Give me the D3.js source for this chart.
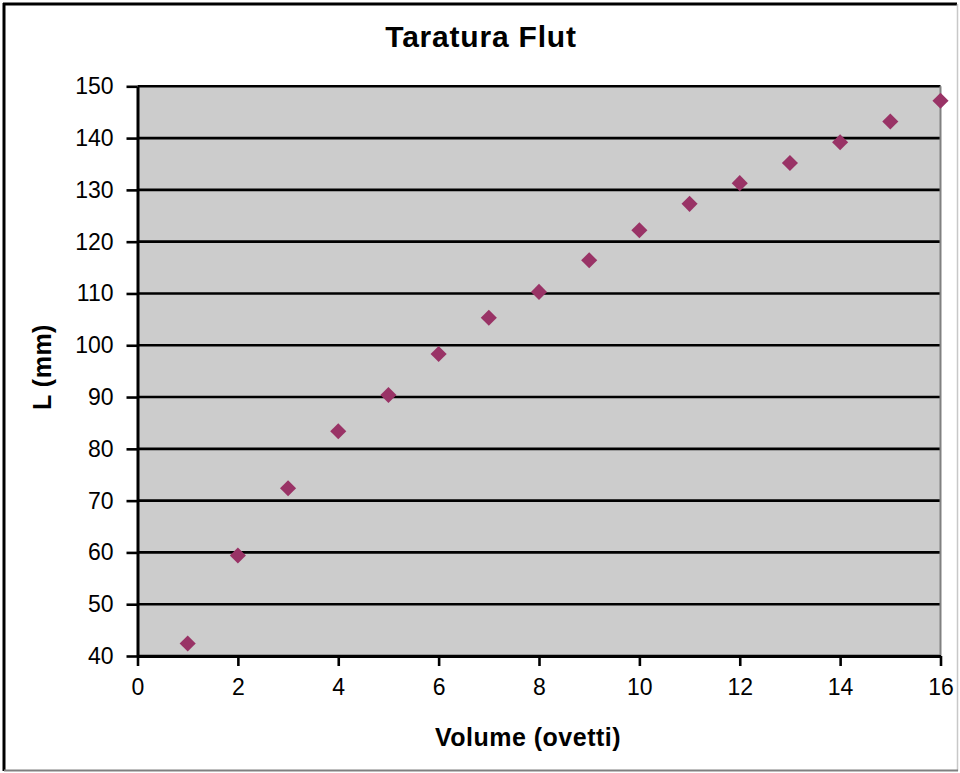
<!DOCTYPE html>
<html>
<head>
<meta charset="utf-8">
<script src="https://cdn.jsdelivr.net/npm/d3@7"></script>
<style>
html,body{margin:0;padding:0;background:#fff;}
svg{display:block;font-family:"Liberation Sans",Arial,sans-serif;}
</style>
</head>
<body>
<svg id="chart" width="960" height="773"></svg>
<script>
const chartTitle = "Taratura Flut";
const xTitle = "Volume (ovetti)";
const yTitle = "L (mm)";
const volume = [1,2,3,4,5,6,7,8,9,10,11,12,13,14,15,16];
const lengthMM = [42.4,59.4,72.4,83.4,90.4,98.3,105.3,110.3,116.4,122.2,127.3,131.3,135.2,139.2,143.2,147.2];
const xTicks = [0,2,4,6,8,10,12,14,16];
const yTicks = [40,50,60,70,80,90,100,110,120,130,140,150];

const svg = d3.select("#chart");
const L = 137.5, R = 940.5, T = 86.3, B = 656;

const x = d3.scaleLinear().domain([0,16]).range([L,R]);
const y = d3.scaleLinear().domain([40,150]).range([B,T]);

// outer border
svg.append("line").attr("x1",3).attr("x2",957).attr("y1",4).attr("y2",4).attr("stroke","#000").attr("stroke-width",3);
svg.append("line").attr("x1",4).attr("x2",4).attr("y1",3).attr("y2",771).attr("stroke","#000").attr("stroke-width",3);
svg.append("line").attr("x1",957.5).attr("x2",957.5).attr("y1",4).attr("y2",771).attr("stroke","#c8c8c8").attr("stroke-width",1.5);
svg.append("line").attr("x1",4).attr("x2",958).attr("y1",770.5).attr("y2",770.5).attr("stroke","#808080").attr("stroke-width",2);

// plot area
svg.append("rect").attr("x",L).attr("y",T).attr("width",R-L).attr("height",B-T).attr("fill","#cccccc");

// gridlines
svg.append("g").selectAll("line").data(yTicks).join("line")
  .attr("x1",L).attr("x2",R).attr("y1",d=>y(d)).attr("y2",d=>y(d))
  .attr("stroke","#000").attr("stroke-width",2.6);

// right edge
svg.append("line").attr("x1",R).attr("x2",R).attr("y1",T).attr("y2",B).attr("stroke","#808080").attr("stroke-width",2);

// y axis
const yAxis = d3.axisLeft(y).tickValues(yTicks).tickSize(11).tickPadding(13).tickSizeOuter(0);
const gy = svg.append("g").attr("transform",`translate(${L},0)`).call(yAxis);
gy.select(".domain").attr("stroke","#000").attr("stroke-width",3);
gy.selectAll(".tick line").attr("stroke","#000").attr("stroke-width",2.6);
gy.selectAll(".tick text").attr("font-size",23).attr("fill","#000").attr("font-family","Liberation Sans, Arial, sans-serif");

// x axis
const xAxis = d3.axisBottom(x).tickValues(xTicks).tickSize(10).tickPadding(13).tickSizeOuter(0);
const gx = svg.append("g").attr("transform",`translate(0,${B})`).call(xAxis);
gx.select(".domain").attr("stroke","#000").attr("stroke-width",3);
gx.selectAll(".tick line").attr("stroke","#000").attr("stroke-width",2.6);
gx.selectAll(".tick text").attr("font-size",23).attr("fill","#000").attr("font-family","Liberation Sans, Arial, sans-serif");

// points
const diamond = d3.symbol().type(d3.symbolDiamond2).size(165);
svg.append("g").selectAll("path").data(volume.map((v,i)=>[v,lengthMM[i]])).join("path")
  .attr("d",diamond)
  .attr("transform",d=>`translate(${x(d[0])},${y(d[1])})`)
  .attr("fill","#993366");

// titles
svg.append("text").attr("x",481).attr("y",47).attr("text-anchor","middle")
  .attr("font-size",30).attr("font-weight","bold").attr("letter-spacing",0.8).text(chartTitle);
svg.append("text").attr("x",528).attr("y",746).attr("text-anchor","middle")
  .attr("font-size",25).attr("font-weight","bold").attr("letter-spacing",0.5).text(xTitle);
svg.append("text").attr("transform","translate(51,367) rotate(-90)").attr("text-anchor","middle")
  .attr("font-size",25).attr("font-weight","bold").attr("letter-spacing",0.5).text(yTitle);
</script>
</body>
</html>
